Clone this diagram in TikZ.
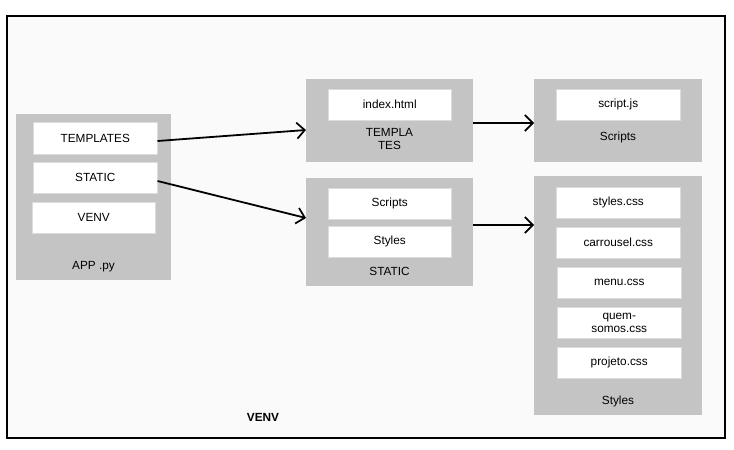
\documentclass[tikz,border=0pt]{standalone}
\usepackage{fontspec}
\setmainfont{Liberation Sans}
\usetikzlibrary{arrows.meta}
\definecolor{groupgray}{HTML}{C4C4C4}
\definecolor{paper}{HTML}{FAFAFA}
\begin{document}
\begin{tikzpicture}[x=1pt,y=-1pt,
  font=\fontsize{11.8}{13}\selectfont,
  group/.style={fill=groupgray, draw=none, inner sep=0pt},
  item/.style={fill=white, draw=groupgray!60, line width=0.5pt, inner sep=0pt, align=center},
  caption/.style={inner sep=0pt, align=center},
  link/.style={line width=1.8pt, -{Straight Barb[length=8pt,width=16pt,line width=1.7pt]}}]
  \useasboundingbox (0,0) rectangle (734,450);
  % frame
  \node[draw=black, line width=1.5pt, fill=paper, inner sep=0pt, minimum width=718pt, minimum height=422pt, anchor=north west] (frame) at (6,15) {};

  % APP .py group
  \node[group, minimum width=155pt, minimum height=166pt, anchor=north west] (app) at (16,114) {};
  \node[item, minimum width=124pt, minimum height=32pt, anchor=north west] (tpl) at (33,122) {TEMPLATES};
  \node[item, minimum width=124pt, minimum height=31pt, anchor=north west] (stc) at (33,162) {STATIC};
  \node[item, minimum width=123pt, minimum height=31pt, anchor=north west] (venv) at (32,202) {VENV};
  \node[caption] (applbl) at (93.5,267) {APP .py};

  % TEMPLATES group
  \node[group, minimum width=167pt, minimum height=83pt, anchor=north west] (tgrp) at (306,79) {};
  \node[item, minimum width=123pt, minimum height=31pt, anchor=north west] (idx) at (328,89) {index.html};
  \node[caption] (tlbl) at (389.5,138.5) {TEMPLA\\TES};

  % STATIC group
  \node[group, minimum width=167pt, minimum height=108pt, anchor=north west] (sgrp) at (306,178) {};
  \node[item, minimum width=123pt, minimum height=31pt, anchor=north west] (sscr) at (328,188) {Scripts};
  \node[item, minimum width=123pt, minimum height=31pt, anchor=north west] (ssty) at (328,226) {Styles};
  \node[caption] (slbl) at (389.5,271) {STATIC};

  % Scripts group
  \node[group, minimum width=168pt, minimum height=83pt, anchor=north west] (scgrp) at (534,79) {};
  \node[item, minimum width=124pt, minimum height=31pt, anchor=north west] (js) at (556,89) {script.js};
  \node[caption] (sclbl) at (618,137) {Scripts};

  % Styles group
  \node[group, minimum width=168pt, minimum height=239pt, anchor=north west] (stgrp) at (534,176) {};
  \node[item, minimum width=124pt, minimum height=31pt, anchor=north west] (css1) at (556,187) {styles.css};
  \node[item, minimum width=124pt, minimum height=31pt, anchor=north west] (css2) at (556,227) {carrousel.css};
  \node[item, minimum width=124pt, minimum height=31pt, anchor=north west] (css3) at (557,267) {menu.css};
  \node[item, minimum width=124pt, minimum height=31pt, anchor=north west] (css4) at (557,307) {quem-\\somos.css};
  \node[item, minimum width=124pt, minimum height=31pt, anchor=north west] (css5) at (557,347) {projeto.css};
  \node[caption] (stlbl) at (618,401) {Styles};

  % environment label
  \node[caption, font=\fontsize{11.8}{13}\selectfont\bfseries] (venvlbl) at (263,417) {VENV};

  % connectors
  \draw[link] (tpl.east |- 0,141) -- (tgrp.west |- 0,130);
  \draw[link] (stc.east |- 0,181) -- (sgrp.west |- 0,218);
  \draw[link] (tgrp.east |- 0,123) -- (scgrp.west |- 0,123);
  \draw[link] (sgrp.east |- 0,225) -- (stgrp.west |- 0,225);
\end{tikzpicture}
\end{document}
